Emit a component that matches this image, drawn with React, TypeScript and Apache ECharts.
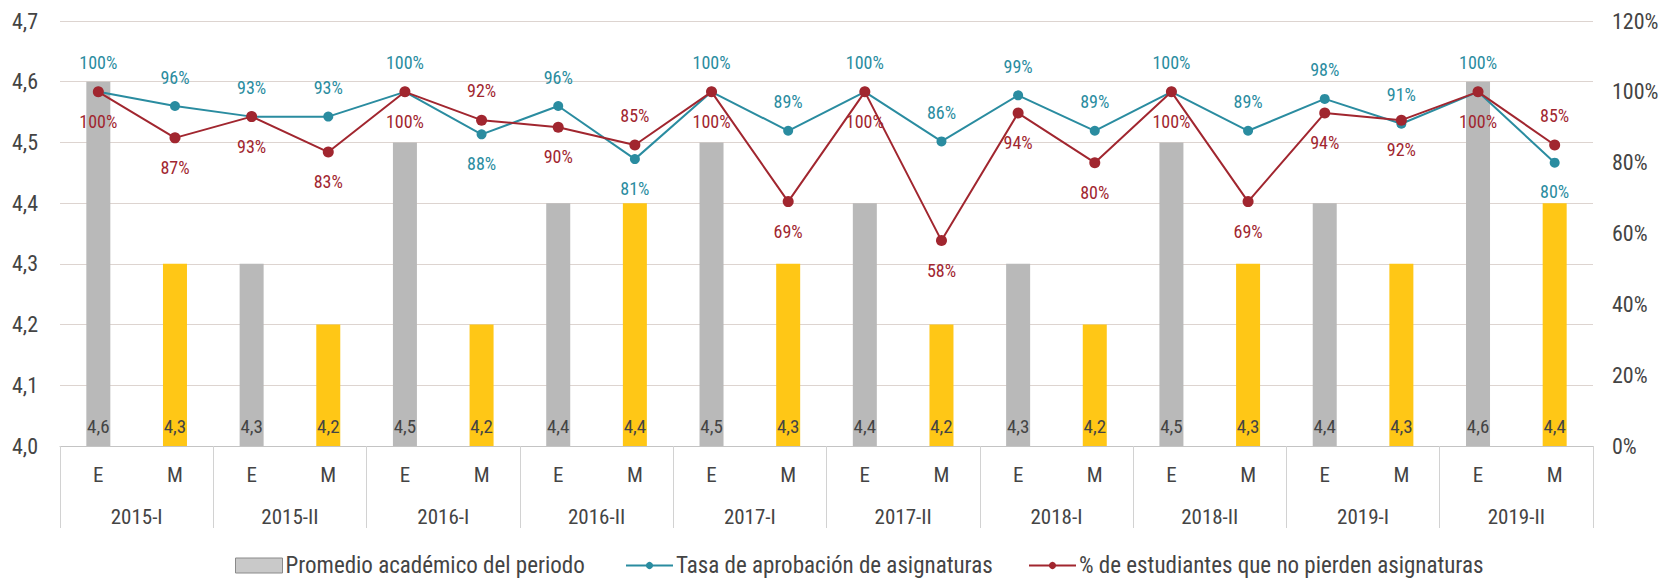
import React, { useEffect, useRef } from "react";
import * as echarts from "echarts";

const periods = ["2015-I", "2015-II", "2016-I", "2016-II", "2017-I", "2017-II", "2018-I", "2018-II", "2019-I", "2019-II"];
const subCats = ["E", "M"];
const promedioE = [4.6, 4.3, 4.5, 4.4, 4.5, 4.4, 4.3, 4.5, 4.4, 4.6];
const promedioM = [4.3, 4.2, 4.2, 4.4, 4.3, 4.2, 4.2, 4.3, 4.3, 4.4];
const tasaAprobacion = [100, 96, 93, 93, 100, 88, 96, 81, 100, 89, 100, 86, 99, 89, 100, 89, 98, 91, 100, 80];
const noPierden = [100, 87, 93, 83, 100, 92, 90, 85, 100, 69, 100, 58, 94, 80, 100, 69, 94, 92, 100, 85];
const leftTicks = [4.0, 4.7, 0.1];
const rightTicks = [0, 120, 20];

const NAME_BAR = "Promedio académico del periodo";
const NAME_TASA = "Tasa de aprobación de asignaturas";
const NAME_NP = "% de estudiantes que no pierden asignaturas";

// indices where teal label goes below and red label goes above
const flipped = [5, 7, 19];

const FONT = "'Liberation Sans Narrow', 'Roboto Condensed', 'DejaVu Sans Condensed', sans-serif";
const GRAY = "#B9B9B9";
const YELLOW = "#FFC716";
const TEAL = "#2A8CA0";
const RED = "#A1262F";
const TEXT = "#444444";

export default function App() {
  const ref = useRef<HTMLDivElement>(null);
  useEffect(() => {
    if (!ref.current) return;
    const chart = echarts.init(ref.current, null, { renderer: "svg" });
    const cats: string[] = [];
    const barVals: number[] = [];
    periods.forEach((p, i) => {
      cats.push(subCats[0], subCats[1]);
      barVals.push(promedioE[i], promedioM[i]);
    });
    const comma = (v: number, d: number) => v.toFixed(d).replace(".", ",");

    const legendBase = {
      top: 549,
      itemWidth: 47,
      itemHeight: 15,
      itemGap: 4,
      textStyle: { fontSize: 23, color: TEXT, fontFamily: FONT, padding: [0, 0, 0, -2] },
    };

    chart.setOption({
      animation: false,
      textStyle: { fontFamily: FONT },
      grid: { left: 60, right: 79, top: 21, bottom: 133, containLabel: false },
      legend: [
        {
          ...legendBase,
          left: 230,
          data: [{ name: NAME_BAR, icon: "rect", itemStyle: { color: "#C9C9C9", borderColor: "#8A8A8A", borderWidth: 1 } }],
        },
        { ...legendBase, itemHeight: 9, left: 620, data: [NAME_TASA] },
        { ...legendBase, itemHeight: 9, left: 1023, data: [NAME_NP] },
      ],
      xAxis: [
        {
          type: "category",
          data: cats,
          position: "bottom",
          axisLine: { show: true, lineStyle: { color: "#C4C4C4", width: 1 } },
          axisTick: { show: false },
          axisLabel: { fontSize: 21, color: TEXT, margin: 18, fontFamily: FONT, interval: 0 },
        },
        {
          type: "category",
          data: periods,
          position: "bottom",
          axisLine: { show: false },
          axisTick: { show: true, length: 82, interval: 0, lineStyle: { color: "#D2D2D2", width: 1 } },
          axisLabel: { fontSize: 21, color: TEXT, margin: 60, fontFamily: FONT, interval: 0 },
        },
      ],
      yAxis: [
        {
          type: "value",
          min: leftTicks[0],
          max: leftTicks[1],
          interval: leftTicks[2],
          axisLine: { show: false },
          axisTick: { show: false },
          splitLine: { show: true, lineStyle: { color: "#DDD4D0", width: 1 } },
          axisLabel: { fontSize: 22, color: TEXT, margin: 22, fontFamily: FONT, formatter: (v: number) => comma(v, 1) },
        },
        {
          type: "value",
          min: rightTicks[0],
          max: rightTicks[1],
          interval: rightTicks[2],
          position: "right",
          axisLine: { show: false },
          axisTick: { show: false },
          splitLine: { show: false },
          axisLabel: { fontSize: 22, color: TEXT, margin: 19, fontFamily: FONT, formatter: (v: number) => `${v}%` },
        },
      ],
      series: [
        {
          name: NAME_BAR,
          type: "bar",
          xAxisIndex: 0,
          yAxisIndex: 0,
          barWidth: 24,
          data: barVals.map((v, i) => ({ value: v, itemStyle: { color: i % 2 === 0 ? GRAY : YELLOW } })),
          itemStyle: { color: GRAY },
          label: {
            show: true,
            position: "insideBottom",
            distance: 10,
            fontSize: 19,
            color: TEXT,
            fontFamily: FONT,
            formatter: (p: any) => comma(p.value, 1),
          },
          z: 1,
        },
        {
          name: NAME_TASA,
          type: "line",
          xAxisIndex: 0,
          yAxisIndex: 1,
          symbol: "circle",
          symbolSize: 10,
          lineStyle: { color: TEAL, width: 2 },
          itemStyle: { color: TEAL },
          data: tasaAprobacion.map((v, i) => ({
            value: v,
            label: { position: flipped.includes(i) ? "bottom" : "top" },
          })),
          label: {
            show: true,
            distance: 15,
            fontSize: 18,
            color: TEAL,
            fontFamily: FONT,
            formatter: (p: any) => `${p.value}%`,
          },
          z: 3,
        },
        {
          name: NAME_NP,
          type: "line",
          xAxisIndex: 0,
          yAxisIndex: 1,
          symbol: "circle",
          symbolSize: 11,
          lineStyle: { color: RED, width: 2 },
          itemStyle: { color: RED },
          data: noPierden.map((v, i) => ({
            value: v,
            label: { position: flipped.includes(i) ? "top" : "bottom" },
          })),
          label: {
            show: true,
            distance: 15,
            fontSize: 18,
            color: RED,
            fontFamily: FONT,
            formatter: (p: any) => `${p.value}%`,
          },
          z: 4,
        },
      ],
    });
    return () => chart.dispose();
  }, []);
  return <div ref={ref} style={{ position: "absolute", left: 0, top: 0, width: 1672, height: 579 }} />;
}
